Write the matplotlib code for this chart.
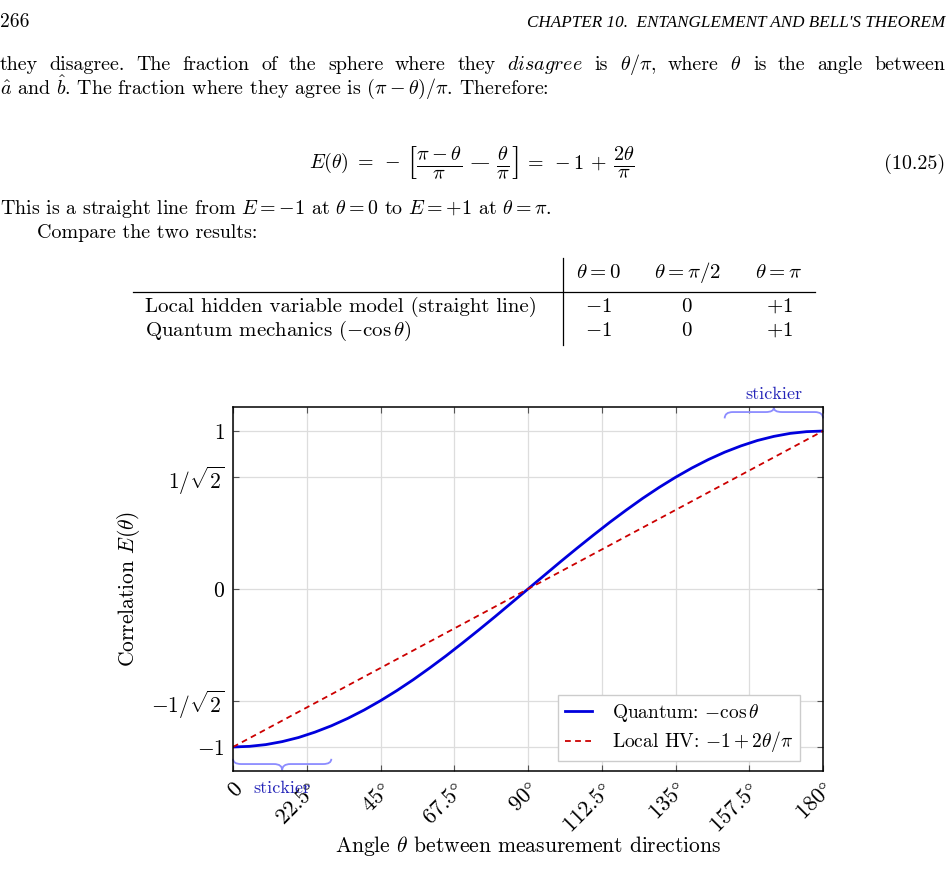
import numpy as np
import matplotlib
matplotlib.use("Agg")
import matplotlib.pyplot as plt
from matplotlib.lines import Line2D
from matplotlib.path import Path
from matplotlib.patches import PathPatch

plt.rcParams['font.family'] = ['cmr10', 'DejaVu Serif']
plt.rcParams['mathtext.fontset'] = 'cm'
plt.rcParams['axes.unicode_minus'] = False
plt.rcParams['axes.formatter.use_mathtext'] = True

# --- data -------------------------------------------------------------
# quantum curve every 5 degrees
angles = [0, 5, 10, 15, 20, 25, 30, 35, 40, 45, 50, 55, 60, 65, 70, 75, 80, 85, 90,
          95, 100, 105, 110, 115, 120, 125, 130, 135, 140, 145, 150, 155, 160, 165,
          170, 175, 180]
quantum = [-1.0, -0.996, -0.985, -0.966, -0.940, -0.906, -0.866, -0.819, -0.766,
           -0.707, -0.643, -0.574, -0.500, -0.423, -0.342, -0.259, -0.174, -0.087,
           0.0, 0.087, 0.174, 0.259, 0.342, 0.423, 0.500, 0.574, 0.643, 0.707,
           0.766, 0.819, 0.866, 0.906, 0.940, 0.966, 0.985, 0.996, 1.0]
# local hidden variable straight line
local_angles = [0, 90, 180]
local_values = [-1, 0, 1]

xtick_vals = [0, 22.5, 45, 67.5, 90, 112.5, 135, 157.5, 180]
xtick_labels = [r"$0$", r"$22.5\degree$", r"$45\degree$", r"$67.5\degree$", r"$90\degree$",
                r"$112.5\degree$", r"$135\degree$", r"$157.5\degree$", r"$180\degree$"]
ytick_vals = [-1, -1 / np.sqrt(2), 0, 1 / np.sqrt(2), 1]
ytick_labels = [r"$-1$", r"$-1/\sqrt{2}$", r"$0$", r"$1/\sqrt{2}$", r"$1$"]

# "stickier" regions near the ends
sticky_ranges = [(150, 180), (0, 30)]

table_cols = [r"$\theta=0$", r"$\theta=\pi/2$", r"$\theta=\pi$"]
table_rows = ["Local hidden variable model (straight line)",
              r"Quantum mechanics $(-\cos\theta)$"]
table_vals = [[r"$-1$", r"$0$", r"$+1$"], [r"$-1$", r"$0$", r"$+1$"]]

W, H = 950, 888
FS = 14.4
fig = plt.figure(figsize=(W / 100, H / 100), dpi=100)


def fx(x):
    return x / W


def fy(y):
    return 1 - y / H


def ftext(x, y, s, **kw):
    kw.setdefault('fontsize', FS)
    kw.setdefault('va', 'baseline')
    return fig.text(fx(x), fy(y), s, **kw)


def fline(x0, y0, x1, y1, lw=0.9, color='black'):
    fig.add_artist(Line2D([fx(x0), fx(x1)], [fy(y0), fy(y1)], lw=lw, color=color,
                          transform=fig.transFigure))


def justify(y, chunks, x0, x1):
    texts = [ftext(0, y, c) for c in chunks]
    r = fig.canvas.get_renderer()
    widths = [t.get_window_extent(r).width for t in texts]
    gap = (x1 - x0 - sum(widths)) / (len(chunks) - 1)
    x = x0
    for t, w in zip(texts, widths):
        t.set_x(fx(x))
        x += w + gap


def equation(yc, pieces, xc, gap=6):
    # pieces: (text, fontsize); laid out left to right, centred at xc
    texts = [ftext(0, yc, s, fontsize=fs, va='center') for s, fs in pieces]
    r = fig.canvas.get_renderer()
    widths = [t.get_window_extent(r).width for t in texts]
    x = xc - (sum(widths) + gap * (len(texts) - 1)) / 2
    for t, w in zip(texts, widths):
        t.set_x(fx(x))
        x += w + gap


# --- page text --------------------------------------------------------
ftext(0, 27, "266", fontsize=14)
ftext(945, 27, "CHAPTER 10.  ENTANGLEMENT AND BELL'S THEOREM", ha='right',
      family='Liberation Serif', style='italic', fontsize=12.3)
justify(70, ["they", "disagree.", "The", "fraction", "of", "the", "sphere", "where",
             "they", r"$\mathit{disagree}$", "is", r"$\theta/\pi$,", "where",
             r"$\theta$", "is", "the", "angle", "between"], 0, 945)
ftext(0, 94, r"$\hat{a}$ and $\hat{b}$. The fraction where they agree is "
             r"$(\pi-\theta)/\pi$. Therefore:")
equation(163, [(r"$E(\theta)\;=\;-$", FS),
               (r"$\left[\frac{\pi-\theta}{\pi} - \frac{\theta}{\pi}\right]$", FS * 1.45),
               (r"$=\;-1\,+$", FS),
               (r"$\frac{2\theta}{\pi}$", FS * 1.45)], 472)
ftext(945, 169, "(10.25)", ha='right')
ftext(0, 214, r"This is a straight line from $E=-1$ at $\theta=0$ to "
              r"$E=+1$ at $\theta=\pi$.")
ftext(37, 238, "Compare the two results:")

# table
TS = 15
col_x = [598, 687, 779]
for cx, lab in zip(col_x, table_cols):
    ftext(cx, 278, lab, ha='center', fontsize=TS)
for i, (row, vals) in enumerate(zip(table_rows, table_vals)):
    yb = 312 + 24 * i
    ftext(145, yb, row, fontsize=TS)
    for cx, v in zip(col_x, vals):
        ftext(cx, yb, v, ha='center', fontsize=TS)
fline(133, 292, 815, 292)
fline(563, 258, 563, 345)

# --- chart ------------------------------------------------------------
ax = fig.add_axes([233 / W, 1 - 771 / H, 590 / W, 364 / H])
ax.plot(angles, quantum, color='#0000dd', lw=2.0, label=r"Quantum: $-\cos\theta$")
ax.plot(local_angles, local_values, color='#cc0000', lw=1.3, ls=(0, (3.2, 2.4)),
        label=r"Local HV: $-1+2\theta/\pi$")

ax.set_xlim(0, 180)
ax.set_ylim(-1.152, 1.152)
ax.set_xticks(xtick_vals)
ax.set_xticklabels(xtick_labels, rotation=45, ha='right', rotation_mode='anchor',
                   fontsize=16)
ax.set_yticks(ytick_vals)
ax.set_yticklabels(ytick_labels, fontsize=15.5)
ax.tick_params(direction='in', length=4, width=0.8, color='#555555', top=True, right=True,
               pad=6)
ax.grid(True, color='#dddddd', lw=0.9)
ax.set_axisbelow(True)
for sp in ax.spines.values():
    sp.set_linewidth(1.1)

ax.set_xlabel(r"Angle $\theta$ between measurement directions", fontsize=15.5)
ax.xaxis.set_label_coords(0.5, -0.172)
ax.set_ylabel(r"Correlation $E(\theta)$", fontsize=15.5)
ax.yaxis.set_label_coords(-0.155, 0.5)

leg = ax.legend(loc='lower right', bbox_to_anchor=(0.961, 0.027), borderaxespad=0,
                fontsize=14, frameon=True, fancybox=False, framealpha=1,
                edgecolor='#cccccc', handlelength=1.4, borderpad=0.35,
                labelspacing=0.3, handletextpad=1.0)
leg.get_frame().set_linewidth(1.0)


def brace(x0, x1, y_end, y_flat, y_tip, r):
    xm = (x0 + x1) / 2
    verts = [(x0, y_end), (x0, y_flat), (x0 + r, y_flat),
             (xm - r, y_flat),
             (xm, y_flat), (xm, y_tip),
             (xm, y_flat), (xm + r, y_flat),
             (x1 - r, y_flat),
             (x1, y_flat), (x1, y_end)]
    codes = [Path.MOVETO, Path.CURVE3, Path.CURVE3, Path.LINETO,
             Path.CURVE3, Path.CURVE3, Path.CURVE3, Path.CURVE3,
             Path.LINETO, Path.CURVE3, Path.CURVE3]
    ax.add_patch(PathPatch(Path(verts, codes), fc='none', ec='#8c8cff', lw=1.3,
                           clip_on=False))
    return xm


top = sticky_ranges[0]
xm = brace(top[0], top[1], 1.08, 1.12, 1.148, 2.5)
ax.text(xm, 1.23, "stickier", ha='center', va='center', color='#2424b8', fontsize=13)
bot = sticky_ranges[1]
xm = brace(bot[0], bot[1], -1.075, -1.108, -1.147, 2.5)
ax.text(xm, -1.26, "stickier", ha='center', va='center', color='#2424b8', fontsize=13)

fig.savefig("out.png", dpi=100)
